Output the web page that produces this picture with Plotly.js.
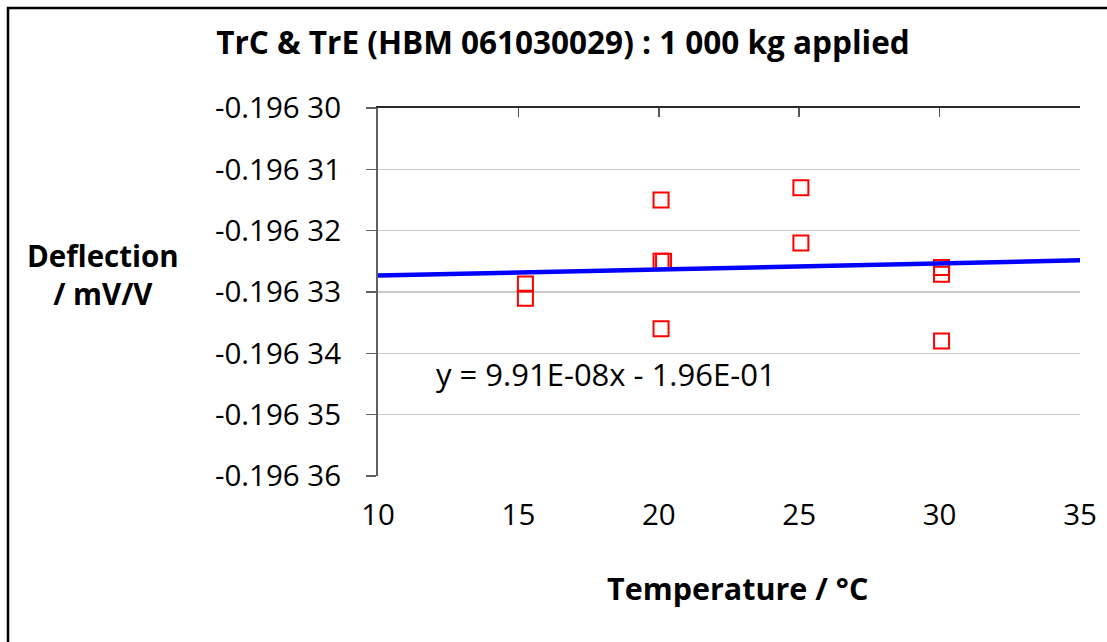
<!DOCTYPE html>
<html>
<head>
<meta charset="utf-8">
<script src="https://cdn.plot.ly/plotly-3.0.1.min.js"></script>
<style>
  html, body { margin: 0; padding: 0; background: #ffffff; }
  #chart { width: 1107px; height: 642px; }
</style>
</head>
<body>
<div id="chart"></div>
<script>
// Measured deflection at each test temperature (TrC & TrE, 1 000 kg load)
const temperatureC = [15.25, 15.25, 20.08, 20.08, 20.17, 20.08, 25.06, 25.06, 30.07, 30.07, 30.07];
const deflectionMvV = [-0.1963287, -0.1963310, -0.1963150, -0.1963250, -0.1963250, -0.1963360,
                       -0.1963130, -0.1963220, -0.1963260, -0.1963271, -0.1963380];

// Linear trend line: y = slope * x + intercept
const trendSlope = 9.91e-8;
const trendIntercept = -0.1963283;
const trendX = [10, 35];
const trendY = trendX.map(x => trendSlope * x + trendIntercept);

// Axis ticks
const xTickVals = [10, 15, 20, 25, 30, 35];
const yTickVals = [-0.19630, -0.19631, -0.19632, -0.19633, -0.19634, -0.19635, -0.19636];
const yTickText = ['-0.196 30', '-0.196 31', '-0.196 32', '-0.196 33', '-0.196 34', '-0.196 35', '-0.196 36'];

const titleText = 'TrC &amp; TrE (HBM 061030029) : 1 000 kg applied';
const yTitleText = 'Deflection<br>/ mV/V';
const xTitleText = 'Temperature / °C';
const equationText = 'y = 9.91E-08x - 1.96E-01';

const FONT = '"Open Sans", "Liberation Sans", sans-serif';

const traces = [
  {
    type: 'scatter',
    mode: 'markers',
    x: temperatureC,
    y: deflectionMvV,
    xaxis: 'x',
    yaxis: 'y',
    marker: { symbol: 'square-open', size: 15, color: '#ff0000', line: { width: 2, color: '#ff0000' } },
    hoverinfo: 'x+y',
    showlegend: false
  },
  {
    type: 'scatter',
    mode: 'lines',
    x: trendX,
    y: trendY,
    xaxis: 'x2',
    yaxis: 'y',
    line: { color: '#0000ff', width: 4.5 },
    hoverinfo: 'skip',
    showlegend: false
  }
];

const L = 378, R = 27, T = 108, B = 166;
const plotW = 1107 - L - R, plotH = 642 - T - B;
const px = v => (v - L) / plotW;          // page x -> paper x
const py = v => (642 - B - v) / plotH;    // page y -> paper y

const layout = {
  width: 1107,
  height: 642,
  margin: { l: L, r: R, t: T, b: B, pad: 0 },
  paper_bgcolor: '#ffffff',
  plot_bgcolor: '#ffffff',
  font: { family: FONT, color: '#000000', size: 29 },
  title: {
    text: titleText,
    font: { family: FONT, size: 31.5, weight: 'bold', color: '#000000' },
    xref: 'container', x: 563 / 1107, xanchor: 'center',
    yref: 'container', y: 1 - 43 / 642, yanchor: 'middle'
  },
  xaxis: {
    range: [10, 35],
    tickmode: 'array',
    tickvals: xTickVals,
    showgrid: false,
    zeroline: false,
    showline: false,
    ticks: '',
    ticklabelstandoff: 18,
    tickfont: { family: FONT, size: 29.5, color: '#000000' },
    fixedrange: true
  },
  xaxis2: {
    overlaying: 'x',
    side: 'top',
    anchor: 'y',
    range: [10, 35],
    tickmode: 'array',
    tickvals: xTickVals,
    showgrid: false,
    zeroline: false,
    showline: true,
    linecolor: '#2b2b2b',
    linewidth: 2,
    ticks: 'inside',
    ticklen: 9,
    tickwidth: 1.5,
    tickcolor: '#555555',
    showticklabels: false,
    fixedrange: true
  },
  yaxis: {
    range: [-0.19636, -0.19630],
    tickmode: 'array',
    tickvals: yTickVals,
    ticktext: yTickText,
    showgrid: true,
    gridcolor: '#c8c8c8',
    gridwidth: 1.5,
    zeroline: false,
    showline: true,
    linecolor: '#606060',
    linewidth: 2,
    ticks: 'outside',
    ticklen: 10,
    tickwidth: 1.5,
    tickcolor: '#606060',
    ticklabelstandoff: 19,
    tickfont: { family: FONT, size: 29.5, color: '#000000' },
    fixedrange: true
  },
  annotations: [
    {
      text: yTitleText,
      xref: 'paper', yref: 'paper',
      x: px(103), y: py(274), xanchor: 'center', yanchor: 'middle',
      align: 'center',
      showarrow: false,
      font: { family: FONT, size: 29.5, weight: 'bold', color: '#000000' }
    },
    {
      text: xTitleText,
      xref: 'paper', yref: 'paper',
      x: px(737), y: py(588), xanchor: 'center', yanchor: 'middle',
      showarrow: false,
      font: { family: FONT, size: 30.5, weight: 'bold', color: '#000000' }
    },
    {
      text: equationText,
      xref: 'paper', yref: 'paper',
      x: px(434), y: py(374), xanchor: 'left', yanchor: 'middle',
      showarrow: false,
      font: { family: FONT, size: 31, color: '#000000' }
    }
  ],
  shapes: [
    {
      type: 'rect',
      xref: 'paper', yref: 'paper',
      x0: px(8), x1: px(1140), y0: py(700), y1: py(8),
      line: { color: '#000000', width: 2.5 },
      fillcolor: 'rgba(0,0,0,0)',
      layer: 'above'
    }
  ]
};

Plotly.newPlot('chart', traces, layout, { displayModeBar: false, staticPlot: true });
</script>
</body>
</html>
